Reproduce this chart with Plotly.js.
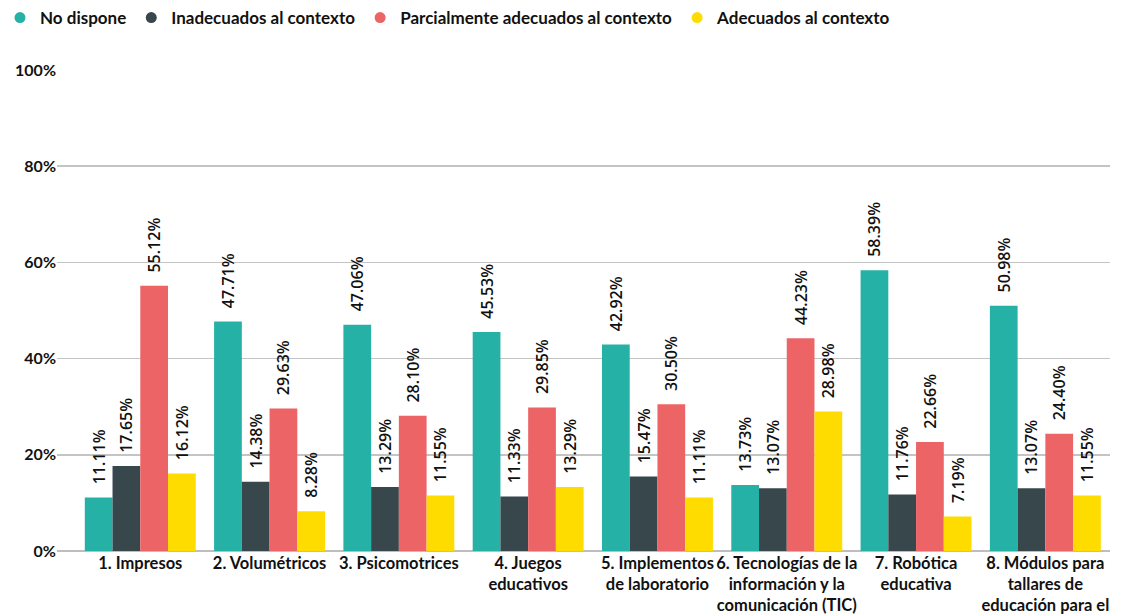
<!DOCTYPE html>
<html>
<head>
<meta charset="utf-8">
<script src="https://cdn.plot.ly/plotly-3.0.1.min.js"></script>
<style>html,body{margin:0;padding:0;background:#fff;}#chart{width:1129px;height:615px;}</style>
</head>
<body>
<div id="chart"></div>
<script>
const categories = [
  "1. Impresos",
  "2. Volumétricos",
  "3. Psicomotrices",
  "4. Juegos<br>educativos",
  "5. Implementos<br>de laboratorio",
  "6. Tecnologías de la<br>información y la<br>comunicación (TIC)",
  "7. Robótica<br>educativa",
  "8. Módulos para<br>tallares de<br>educación para el<br>trabajo (EPT)"
];
const seriesNames = ["No dispone", "Inadecuados al contexto", "Parcialmente adecuados al contexto", "Adecuados al contexto"];
const noDispone   = [11.11, 47.71, 47.06, 45.53, 42.92, 13.73, 58.39, 50.98];
const inadecuados = [17.65, 14.38, 13.29, 11.33, 15.47, 13.07, 11.76, 13.07];
const parcialmente = [55.12, 29.63, 28.10, 29.85, 30.50, 44.23, 22.66, 24.40];
const adecuados   = [16.12, 8.28, 11.55, 13.29, 11.11, 28.98, 7.19, 11.55];
const yTicks = [0, 20, 40, 60, 80, 100];

const colors = ["#26B1A6", "#38474C", "#EC6466", "#FFDC00"];
const allSeries = [noDispone, inadecuados, parcialmente, adecuados];

const traces = [];
allSeries.forEach((vals, i) => {
  traces.push({
    type: "bar",
    x: categories,
    y: vals,
    name: seriesNames[i],
    marker: {color: colors[i]},
    showlegend: false,
    texttemplate: "<span style='color:rgba(0,0,0,0)'>--</span>%{y:.2f}%",
    textposition: "outside",
    textangle: -90,
    constraintext: "none",
    cliponaxis: false,
    textfont: {family: "Open Sans, sans-serif", size: 16, color: "#111", weight: 600},
    hoverinfo: "skip"
  });
});
allSeries.forEach((vals, i) => {
  traces.push({
    type: "scatter",
    mode: "markers",
    x: [null],
    y: [null],
    name: seriesNames[i],
    marker: {color: colors[i], size: 11, symbol: "circle"},
    showlegend: true,
    hoverinfo: "skip"
  });
});

const layout = {
  width: 1129,
  height: 615,
  margin: {l: 57, r: 19, t: 70, b: 64},
  paper_bgcolor: "#fff",
  plot_bgcolor: "#fff",
  barmode: "group",
  bargap: 0.142,
  bargroupgap: 0,
  showlegend: true,
  legend: {
    orientation: "h",
    xref: "container",
    yref: "container",
    x: 0, xanchor: "left",
    y: 1, yanchor: "top",
    font: {family: "Lato, sans-serif", size: 17, color: "#111", weight: "bold"},
    itemwidth: 30,
    tracegroupgap: 0
  },
  xaxis: {
    type: "category",
    range: [-0.644, 7.5],
    showgrid: false,
    zeroline: false,
    showline: false,
    ticks: "",
    tickfont: {family: "Lato, sans-serif", size: 16.5, color: "#111", weight: "bold"},
    tickangle: 0,
    automargin: false
  },
  yaxis: {
    range: [0, 100],
    tickvals: yTicks,
    ticktext: yTicks.map(v => v + "%"),
    showgrid: true,
    gridcolor: "#C4C4C4",
    gridwidth: 1.5,
    zeroline: true,
    zerolinecolor: "#BEBEBE",
    zerolinewidth: 2,
    showline: false,
    ticks: "",
    tickfont: {family: "Lato, sans-serif", size: 16, color: "#111", weight: "bold"},
    automargin: false
  }
};

Plotly.newPlot("chart", traces, layout, {displayModeBar: false, staticPlot: true});
</script>
</body>
</html>
